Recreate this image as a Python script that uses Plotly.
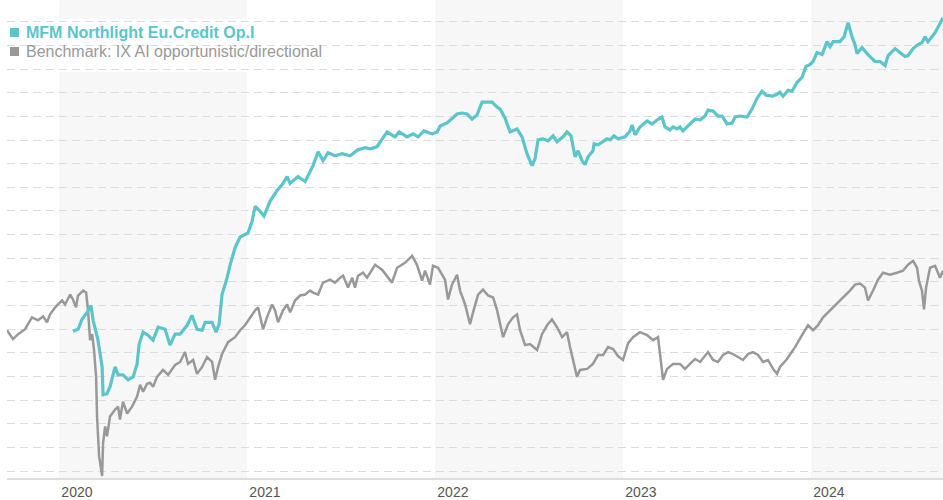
import plotly.graph_objects as go

# ---- data (time in decimal years, value = rebased index) ----
fund_t = [2020.074, 2020.101, 2020.122, 2020.149, 2020.170, 2020.181, 2020.207, 2020.229, 2020.234, 2020.255,
          2020.271, 2020.298, 2020.314, 2020.340, 2020.367, 2020.394, 2020.415, 2020.426, 2020.447, 2020.473,
          2020.500, 2020.527, 2020.564, 2020.590, 2020.617, 2020.644, 2020.681, 2020.707, 2020.734, 2020.761,
          2020.777, 2020.814, 2020.835, 2020.851, 2020.867, 2020.894, 2020.910, 2020.936, 2020.963, 2020.989,
          2021.005, 2021.027, 2021.043, 2021.069, 2021.090, 2021.122, 2021.160, 2021.191, 2021.213, 2021.229,
          2021.271, 2021.309, 2021.335, 2021.351, 2021.378, 2021.404, 2021.431, 2021.468, 2021.505, 2021.548,
          2021.590, 2021.628, 2021.654, 2021.691, 2021.745, 2021.787, 2021.809, 2021.851, 2021.883, 2021.910,
          2021.941, 2021.984, 2022.011, 2022.027, 2022.064, 2022.090, 2022.117, 2022.144, 2022.170, 2022.197,
          2022.223, 2022.250, 2022.303, 2022.330, 2022.346, 2022.372, 2022.399, 2022.436, 2022.463, 2022.489,
          2022.516, 2022.532, 2022.548, 2022.574, 2022.601, 2022.628, 2022.649, 2022.681, 2022.702, 2022.723,
          2022.745, 2022.761, 2022.782, 2022.798, 2022.814, 2022.840, 2022.846, 2022.867, 2022.894, 2022.915,
          2022.931, 2022.952, 2022.973, 2023.011, 2023.037, 2023.048, 2023.064, 2023.090, 2023.128, 2023.154,
          2023.181, 2023.207, 2023.223, 2023.250, 2023.266, 2023.287, 2023.303, 2023.319, 2023.346, 2023.383,
          2023.410, 2023.436, 2023.452, 2023.479, 2023.505, 2023.527, 2023.553, 2023.580, 2023.596, 2023.622,
          2023.660, 2023.686, 2023.713, 2023.739, 2023.761, 2023.793, 2023.819, 2023.835, 2023.851, 2023.878,
          2023.899, 2023.926, 2023.952, 2023.973, 2023.995, 2024.011, 2024.032, 2024.059, 2024.085, 2024.101,
          2024.117, 2024.154, 2024.176, 2024.197, 2024.218, 2024.234, 2024.245, 2024.271, 2024.303, 2024.340,
          2024.367, 2024.394, 2024.410, 2024.447, 2024.473, 2024.500, 2024.516, 2024.543, 2024.569, 2024.590,
          2024.606, 2024.622, 2024.660, 2024.686, 2024.702]
fund_v = [99.9, 100.1, 101.1, 101.8, 102.5, 101.0, 99.0, 96.3, 93.5, 93.6,
          94.3, 96.3, 95.5, 95.5, 95.0, 95.3, 96.6, 98.6, 99.8, 99.5,
          99.0, 100.3, 100.1, 98.5, 99.6, 99.6, 100.5, 101.5, 100.1, 100.0,
          100.8, 100.8, 99.8, 100.6, 103.6, 105.3, 106.6, 108.3, 109.4, 109.7,
          109.8, 111.0, 112.5, 112.0, 111.5, 113.0, 114.1, 114.8, 115.5, 114.8,
          115.5, 115.0, 116.1, 116.6, 118.0, 117.1, 117.9, 117.6, 117.8, 117.6,
          118.2, 118.4, 118.3, 118.5, 120.0, 119.5, 120.0, 119.5, 119.8, 119.5,
          120.1, 119.8, 120.0, 120.6, 120.9, 121.3, 121.8, 121.9, 121.8, 121.3,
          121.7, 123.0, 123.0, 122.5, 122.3, 121.4, 120.0, 120.3, 119.5, 117.8,
          116.6, 117.3, 119.2, 119.3, 119.1, 119.6, 119.0, 119.5, 120.0, 119.6,
          117.5, 118.1, 117.1, 116.7, 117.5, 118.1, 118.8, 118.7, 119.0, 119.3,
          119.2, 119.6, 119.3, 119.5, 120.1, 120.7, 119.7, 120.5, 121.1, 120.8,
          121.2, 121.5, 120.5, 120.2, 120.5, 120.3, 120.5, 120.1, 120.6, 121.3,
          121.2, 121.6, 122.2, 122.1, 121.6, 121.6, 120.8, 120.9, 121.5, 121.6,
          121.5, 122.3, 123.4, 124.1, 123.7, 123.6, 123.8, 124.0, 123.6, 124.2,
          124.1, 125.0, 125.5, 126.6, 126.8, 127.1, 128.0, 127.8, 129.1, 128.6,
          129.1, 129.1, 129.6, 131.0, 129.6, 128.8, 127.9, 128.5, 127.8, 127.1,
          127.1, 126.7, 127.7, 128.4, 128.0, 127.6, 127.7, 128.4, 128.8, 129.0,
          129.6, 129.1, 130.0, 131.0, 131.5]

bench_t = [2019.723, 2019.755, 2019.782, 2019.819, 2019.856, 2019.888, 2019.915, 2019.936, 2019.952, 2019.979,
           2020.016, 2020.032, 2020.059, 2020.074, 2020.090, 2020.101, 2020.128, 2020.144, 2020.154, 2020.165,
           2020.176, 2020.186, 2020.197, 2020.202, 2020.213, 2020.229, 2020.234, 2020.245, 2020.255, 2020.271,
           2020.298, 2020.314, 2020.324, 2020.340, 2020.362, 2020.388, 2020.415, 2020.431, 2020.447, 2020.468,
           2020.484, 2020.500, 2020.521, 2020.553, 2020.580, 2020.617, 2020.644, 2020.670, 2020.686, 2020.713,
           2020.734, 2020.761, 2020.787, 2020.814, 2020.830, 2020.846, 2020.867, 2020.899, 2020.936, 2020.963,
           2020.989, 2021.016, 2021.043, 2021.059, 2021.085, 2021.106, 2021.133, 2021.149, 2021.165, 2021.191,
           2021.213, 2021.229, 2021.255, 2021.282, 2021.309, 2021.335, 2021.351, 2021.378, 2021.404, 2021.441,
           2021.468, 2021.495, 2021.511, 2021.537, 2021.559, 2021.574, 2021.590, 2021.617, 2021.638, 2021.665,
           2021.681, 2021.718, 2021.745, 2021.771, 2021.798, 2021.840, 2021.878, 2021.904, 2021.931, 2021.947,
           2021.973, 2021.989, 2022.016, 2022.053, 2022.069, 2022.090, 2022.117, 2022.133, 2022.160, 2022.186,
           2022.202, 2022.229, 2022.255, 2022.282, 2022.309, 2022.330, 2022.362, 2022.388, 2022.415, 2022.436,
           2022.452, 2022.479, 2022.505, 2022.543, 2022.569, 2022.596, 2022.622, 2022.649, 2022.676, 2022.702,
           2022.718, 2022.745, 2022.755, 2022.771, 2022.809, 2022.840, 2022.867, 2022.894, 2022.920, 2022.947,
           2022.973, 2023.000, 2023.027, 2023.053, 2023.090, 2023.128, 2023.160, 2023.186, 2023.202, 2023.213,
           2023.234, 2023.266, 2023.303, 2023.330, 2023.356, 2023.383, 2023.410, 2023.436, 2023.452, 2023.479,
           2023.505, 2023.532, 2023.559, 2023.585, 2023.612, 2023.638, 2023.665, 2023.691, 2023.718, 2023.745,
           2023.771, 2023.798, 2023.819, 2023.835, 2023.872, 2023.915, 2023.952, 2023.984, 2024.011, 2024.037,
           2024.064, 2024.101, 2024.138, 2024.170, 2024.207, 2024.234, 2024.261, 2024.287, 2024.303, 2024.330,
           2024.356, 2024.383, 2024.420, 2024.457, 2024.489, 2024.516, 2024.543, 2024.564, 2024.574, 2024.590,
           2024.601, 2024.612, 2024.633, 2024.660, 2024.686, 2024.702]
bench_v = [100.0, 99.1, 99.6, 100.1, 101.3, 101.0, 101.4, 100.8, 101.6, 102.3,
           103.0, 102.6, 103.6, 103.1, 102.3, 103.5, 104.0, 103.8, 102.0, 99.0,
           99.6, 98.0, 95.3, 91.3, 87.3, 85.3, 88.6, 90.3, 89.3, 91.3,
           92.0, 92.3, 91.0, 92.8, 91.6, 92.3, 93.3, 94.5, 93.8, 94.6,
           94.7, 94.3, 95.3, 96.0, 95.5, 96.5, 96.8, 97.8, 96.6, 97.0,
           95.6, 96.3, 97.3, 96.8, 95.0, 96.3, 97.6, 98.8, 99.3, 100.0,
           100.5, 101.3, 102.0, 102.3, 100.1, 101.3, 102.6, 102.0, 100.8, 102.0,
           102.6, 101.8, 103.0, 103.5, 103.6, 104.0, 103.8, 103.6, 104.8, 105.1,
           104.8, 105.3, 105.5, 104.3, 105.3, 104.3, 105.5, 105.8, 105.3, 106.1,
           106.6, 106.1, 105.4, 104.8, 106.3, 106.8, 107.5, 106.6, 105.0, 106.0,
           104.6, 106.5, 106.3, 105.1, 103.1, 104.6, 105.6, 104.0, 102.6, 100.6,
           101.8, 103.6, 104.1, 103.5, 103.3, 102.0, 99.3, 100.6, 101.3, 101.6,
           100.0, 98.5, 98.6, 98.0, 99.6, 100.5, 101.1, 100.3, 99.3, 99.8,
           98.3, 96.3, 95.3, 96.0, 96.1, 96.6, 97.5, 97.5, 98.3, 98.1,
           97.4, 97.0, 98.7, 99.3, 99.8, 99.5, 99.0, 99.3, 96.6, 95.0,
           96.1, 96.6, 96.6, 96.1, 96.6, 97.1, 96.8, 97.5, 97.8, 97.0,
           96.8, 97.5, 97.8, 97.6, 97.3, 97.0, 97.6, 97.8, 97.5, 96.8,
           97.0, 96.1, 95.6, 96.3, 97.1, 98.3, 99.5, 100.5, 100.0, 100.5,
           101.3, 102.0, 102.6, 103.3, 104.0, 104.6, 104.7, 104.3, 103.0, 104.0,
           105.1, 105.8, 105.6, 105.8, 106.0, 106.6, 107.0, 106.3, 105.0, 104.0,
           102.1, 104.3, 106.3, 106.5, 105.3, 106.0]

years = [2020, 2021, 2022, 2023, 2024]
year_labels = ["2020", "2021", "2022", "2023", "2024"]
shaded_years = [2020, 2022, 2024]

fund_name = "MFM Northlight Eu.Credit Op.I"
bench_name = "Benchmark: IX AI opportunistic/directional"

TEAL = "#5bc5cc"
GREY = "#999999"
FONT = "Liberation Sans, Arial, sans-serif"

x_min, x_max = 2019.723, 2024.702
y_min, y_max = 85.1, 133.3

fig = go.Figure()
fig.add_trace(go.Scatter(x=bench_t, y=bench_v, mode="lines", name=bench_name,
                         line=dict(color=GREY, width=2.5), showlegend=False))
fig.add_trace(go.Scatter(x=fund_t, y=fund_v, mode="lines", name=fund_name,
                         line=dict(color=TEAL, width=3.2), showlegend=False))

shapes = []
for yr in shaded_years:
    shapes.append(dict(type="rect", xref="x", yref="paper", x0=yr, x1=min(yr + 1, x_max),
                       y0=0, y1=1, fillcolor="#f7f7f7", line=dict(width=0), layer="below"))
# white background behind the legend
shapes.append(dict(type="rect", xref="paper", yref="paper", xsizemode="pixel", ysizemode="pixel",
                   xanchor=0, yanchor=1, x0=-7, x1=330, y0=-72, y1=-19,
                   fillcolor="white", line=dict(width=0), layer="below"))
# legend squares
for col, top in [(TEAL, 28), (GREY, 47)]:
    shapes.append(dict(type="rect", xref="paper", yref="paper", xsizemode="pixel", ysizemode="pixel",
                       xanchor=0, yanchor=1, x0=3, x1=12, y0=-(top + 9), y1=-top,
                       fillcolor=col, line=dict(width=0), layer="above"))

annotations = [
    dict(xref="paper", yref="paper", x=17 / 936, y=(482 - 33) / 482, xanchor="left", yanchor="middle",
         text="<b>" + fund_name + "</b>", showarrow=False,
         font=dict(family=FONT, size=16, color=TEAL)),
    dict(xref="paper", yref="paper", x=17 / 936, y=(482 - 52) / 482, xanchor="left", yanchor="middle",
         text=bench_name, showarrow=False,
         font=dict(family=FONT, size=16, color=GREY)),
]

fig.update_layout(
    width=943, height=500,
    margin=dict(l=7, r=0, t=0, b=18),
    paper_bgcolor="white", plot_bgcolor="white",
    shapes=shapes, annotations=annotations,
    showlegend=False,
    font=dict(family=FONT),
)
fig.update_xaxes(range=[x_min, x_max], showgrid=False, zeroline=False,
                 tickvals=[y + 0.095 for y in years], ticktext=year_labels,
                 ticks="", tickfont=dict(family=FONT, size=14, color="#555555"),
                 showline=True, linecolor="#dddddd", linewidth=2)
fig.update_yaxes(range=[y_min, y_max], showticklabels=False, zeroline=False,
                 tick0=85.8, dtick=2.384, showgrid=True, gridcolor="#dcdcdc", gridwidth=1,
                 griddash="8px,5px", ticks="")

fig.write_html("out.html", config={"displayModeBar": False},
               post_script="document.body.style.margin='0';document.body.style.padding='0';")
